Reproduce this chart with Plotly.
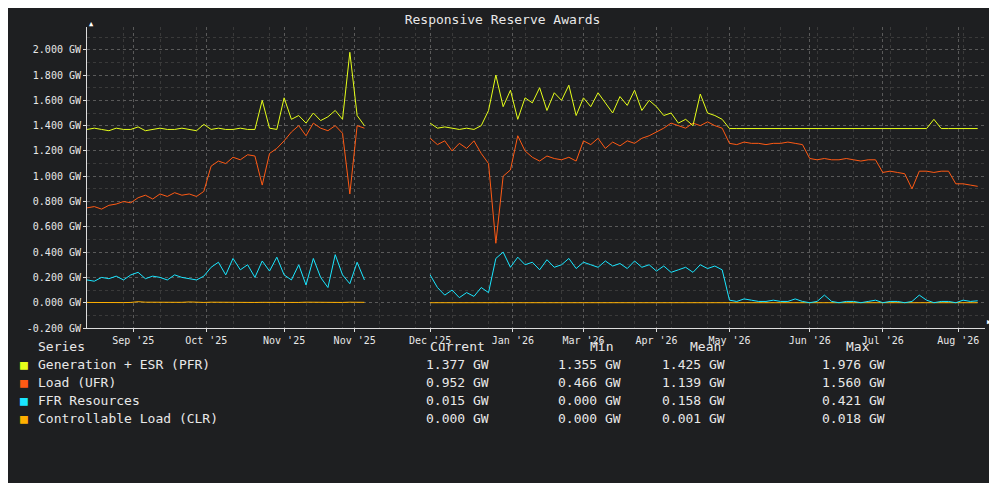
import plotly.graph_objects as go

FONT = "DejaVu Sans Mono, monospace"
BG = "#1e1f21"
COLORS = {
    "Generation + ESR (PFR)": "#e6ff1a",
    "Load (UFR)": "#ff5a14",
    "FFR Resources": "#1ae6ff",
    "Controllable Load (CLR)": "#ffb000",
}

# days since start of the plotted window, sampled every 3 days
days = [3 * i for i in range(123)]
tick_days = [19, 49, 81, 110, 141, 175, 204, 234, 264, 297, 327, 358]
tick_text = ["Sep '25", "Oct '25", "Nov '25", "Nov '25", "Dec '25", "Jan '26",
             "Mar '26", "Apr '26", "May '26", "Jun '26", "Jul '26", "Aug '26"]
y_ticks = [-0.2, 0.0, 0.2, 0.4, 0.6, 0.8, 1.0, 1.2, 1.4, 1.6, 1.8, 2.0]
y_text = ["-0.200 GW", "0.000 GW", "0.200 GW", "0.400 GW", "0.600 GW", "0.800 GW",
          "1.000 GW", "1.200 GW", "1.400 GW", "1.600 GW", "1.800 GW", "2.000 GW"]

pfr = [1.37, 1.38, 1.37, 1.36, 1.38, 1.37, 1.37, 1.39, 1.36, 1.37, 1.38, 1.37,
       1.37, 1.38, 1.37, 1.36, 1.41, 1.37, 1.38, 1.37, 1.37, 1.38, 1.37, 1.37,
       1.60, 1.38, 1.37, 1.62,
       1.45, 1.48, 1.42, 1.50, 1.44, 1.47, 1.52, 1.45, 1.98, 1.48, 1.40,
       None, None, None, None, None, None, None, None,
       1.42, 1.38, 1.39, 1.38, 1.37, 1.38, 1.37, 1.40, 1.52, 1.80,
       1.55, 1.68, 1.45, 1.62, 1.58, 1.70, 1.52, 1.66, 1.60, 1.72, 1.48,
       1.62, 1.55, 1.66, 1.58, 1.50, 1.63, 1.56, 1.68, 1.52, 1.60, 1.55, 1.48, 1.50,
       1.42, 1.45, 1.40, 1.65, 1.50, 1.48, 1.45,
       1.377, 1.377, 1.377, 1.377, 1.377, 1.377, 1.377, 1.377, 1.377, 1.377, 1.377, 1.377,
       1.377, 1.377, 1.377, 1.377, 1.377, 1.377, 1.377, 1.377, 1.377, 1.377, 1.377, 1.377,
       1.377, 1.377, 1.377, 1.377, 1.45, 1.377, 1.377, 1.377, 1.377, 1.377, 1.377]
ufr = [0.75, 0.76, 0.74, 0.77, 0.78, 0.80, 0.79, 0.83, 0.85, 0.82, 0.86, 0.84,
       0.87, 0.85, 0.86, 0.84, 0.88,
       1.08, 1.12, 1.10, 1.15, 1.13, 1.17, 1.16, 0.93, 1.18, 1.22, 1.28,
       1.35, 1.40, 1.32, 1.42, 1.38, 1.36, 1.40, 1.34, 0.86, 1.40, 1.38,
       None, None, None, None, None, None, None, None,
       1.30, 1.25, 1.28, 1.20, 1.26, 1.22, 1.28, 1.18, 1.10, 0.47,
       1.00, 1.05, 1.32, 1.20,
       1.15, 1.12, 1.16, 1.14, 1.13, 1.15, 1.12,
       1.28, 1.25, 1.30, 1.22, 1.27, 1.24, 1.28, 1.26, 1.30,
       1.32, 1.35, 1.38, 1.42, 1.40, 1.38, 1.42, 1.40, 1.43, 1.40, 1.38,
       1.26, 1.25, 1.27, 1.26, 1.26, 1.25, 1.26, 1.26, 1.27, 1.26, 1.25,
       1.14, 1.13, 1.14, 1.13, 1.13, 1.14, 1.13, 1.12, 1.13, 1.13,
       1.03, 1.04, 1.03, 1.02, 0.90, 1.04, 1.04, 1.03, 1.04, 1.04,
       0.94, 0.94, 0.93, 0.92]
ffr = [0.18, 0.17, 0.20, 0.19, 0.21, 0.18, 0.22, 0.24, 0.19, 0.21, 0.20, 0.18,
       0.22, 0.20, 0.19, 0.18, 0.21,
       0.28, 0.32, 0.22, 0.35, 0.26, 0.30, 0.20, 0.33, 0.25, 0.36, 0.22,
       0.18, 0.30, 0.14, 0.35, 0.20, 0.12, 0.38, 0.22, 0.15, 0.32, 0.18,
       None, None, None, None, None, None, None, None,
       0.22, 0.12, 0.06, 0.10, 0.04, 0.08, 0.05, 0.12, 0.08,
       0.35, 0.40, 0.28, 0.36, 0.30,
       0.32, 0.26, 0.34, 0.28, 0.30, 0.35, 0.27, 0.32, 0.30, 0.28,
       0.33, 0.29, 0.31, 0.27, 0.33, 0.28, 0.30, 0.25, 0.29, 0.24,
       0.26, 0.28, 0.24, 0.30, 0.27, 0.29, 0.26,
       0.02, 0.01, 0.03, 0.02, 0.01, 0.01, 0.02, 0.01, 0.01, 0.03, 0.01, 0.00,
       0.01, 0.06, 0.01, 0.00, 0.01, 0.01, 0.00, 0.01, 0.02, 0.00, 0.01, 0.01,
       0.00, 0.01, 0.06, 0.02, 0.00, 0.01, 0.01, 0.00, 0.02, 0.01, 0.015]
clr = [0.002, 0.001, 0.002, 0.003, 0.002, 0.001, 0.002, 0.008, 0.004, 0.003, 0.002, 0.005,
       0.004, 0.003, 0.006, 0.003, 0.002, 0.004, 0.003, 0.005, 0.002, 0.003, 0.004, 0.002,
       0.003, 0.002, 0.001, 0.002, 0.003, 0.002, 0.004, 0.003, 0.002, 0.005, 0.003, 0.002,
       0.004, 0.002, 0.003,
       None, None, None, None, None, None, None, None,
       0.0, 0.0, 0.0, 0.0, 0.0, 0.0, 0.0, 0.0, 0.0, 0.0, 0.0, 0.0, 0.0, 0.0, 0.0, 0.0,
       0.0, 0.0, 0.0, 0.0, 0.0, 0.0, 0.0, 0.0, 0.0, 0.0, 0.0, 0.0, 0.0, 0.0, 0.0, 0.0,
       0.0, 0.0, 0.0, 0.0, 0.0, 0.0, 0.0, 0.0, 0.0, 0.0, 0.0, 0.0, 0.0, 0.0, 0.0, 0.0,
       0.0, 0.0, 0.0, 0.0, 0.0, 0.0, 0.0, 0.0, 0.0, 0.0, 0.0, 0.0, 0.0, 0.0, 0.0, 0.0,
       0.0, 0.0, 0.0, 0.0, 0.0, 0.0, 0.0, 0.0, 0.0, 0.0, 0.0, 0.0]

stats = {
    "Generation + ESR (PFR)": ["1.377 GW", "1.355 GW", "1.425 GW", "1.976 GW"],
    "Load (UFR)": ["0.952 GW", "0.466 GW", "1.139 GW", "1.560 GW"],
    "FFR Resources": ["0.015 GW", "0.000 GW", "0.158 GW", "0.421 GW"],
    "Controllable Load (CLR)": ["0.000 GW", "0.000 GW", "0.001 GW", "0.018 GW"],
}
series = {
    "Generation + ESR (PFR)": pfr,
    "Load (UFR)": ufr,
    "FFR Resources": ffr,
    "Controllable Load (CLR)": clr,
}

fig = go.Figure()
for name in ["Controllable Load (CLR)", "FFR Resources", "Load (UFR)", "Generation + ESR (PFR)"]:
    fig.add_trace(go.Scatter(
        x=days, y=series[name], mode="lines", name=name,
        line=dict(color=COLORS[name], width=1), connectgaps=False,
    ))

# page has an 8px body margin, so the figure is drawn 8px smaller and shifted
OFF = 8
W, L, T, B, H = 898, 87 - OFF, 27 - OFF, 155, 483 - OFF


def px(x):
    return (x - OFF - L) / W


def py(y):
    return (H - B - (y - OFF)) / (H - T - B)


text_font = dict(family=FONT, size=13, color="#e8e8e8")
for label, x in [("Series", 36), ("Current", 428), ("Min", 588), ("Mean", 688), ("Max", 844)]:
    fig.add_annotation(x=px(x), y=py(356), xref="paper", yref="paper", text=label,
                       showarrow=False, xanchor="left", font=text_font)
for row, name in enumerate(series):
    y = py(374 + 18 * row)
    fig.add_annotation(x=px(18), y=y, xref="paper", yref="paper", text="■", showarrow=False,
                       xanchor="left", font=dict(family=FONT, size=13, color=COLORS[name]))
    fig.add_annotation(x=px(36), y=y, xref="paper", yref="paper", text=name, showarrow=False,
                       xanchor="left", font=text_font)
    for x, val in zip([424, 556, 660, 820], stats[name]):
        fig.add_annotation(x=px(x), y=y, xref="paper", yref="paper", text=val, showarrow=False,
                           xanchor="left", font=text_font)

fig.add_annotation(x=0, y=1.03, xref="paper", yref="paper", text="▲", showarrow=False,
                   font=dict(size=7, color="white"))
fig.add_annotation(x=1.0, y=0.0, xref="paper", yref="paper", text="▶", showarrow=False,
                   xanchor="left", font=dict(size=7, color="white"))

fig.update_layout(
    width=997 - OFF,
    height=H,
    font=dict(family=FONT, size=10, color="#e8e8e8"),
    paper_bgcolor=BG,
    plot_bgcolor=BG,
    margin=dict(l=L, r=997 - OFF - L - W, t=T, b=B),
    title=dict(text="Responsive Reserve Awards", x=0.5, y=0.985, font=dict(size=13)),
    showlegend=False,
)
fig.update_xaxes(range=[0, 369], tickvals=tick_days, ticktext=tick_text, showgrid=True,
                 gridcolor="#5a5a5a", griddash="dot", zeroline=False, showline=True,
                 linecolor="#dddddd", ticks="outside", tickcolor="#dddddd", ticklen=3,
                 minor=dict(dtick=15, showgrid=True, gridcolor="#3a3a3a", griddash="dot"))
fig.update_yaxes(range=[-0.2, 2.18], tickvals=y_ticks, ticktext=y_text, showgrid=True,
                 gridcolor="#5a5a5a", griddash="dot", zeroline=False, showline=True,
                 linecolor="#dddddd", ticks="outside", tickcolor="#dddddd", ticklen=3,
                 minor=dict(dtick=0.1, showgrid=True, gridcolor="#3a3a3a", griddash="dot"))
fig.write_html("out.html")
